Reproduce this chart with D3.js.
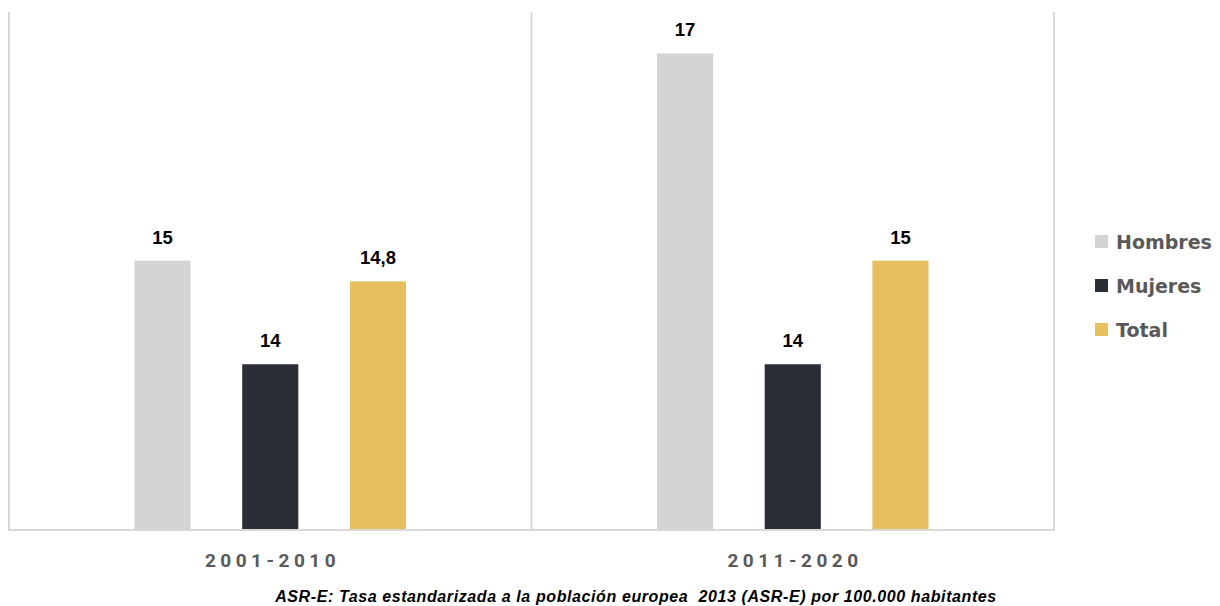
<!DOCTYPE html>
<html>
<head>
<meta charset="utf-8">
<script src="https://cdn.jsdelivr.net/npm/d3@7"></script>
<style>
  html, body { margin: 0; padding: 0; background: #ffffff; }
  svg { display: block; }
</style>
</head>
<body>
<svg id="chart" width="1220" height="606"></svg>
<script>
// Periods, series and the rate shown above each bar
const periods = ["2001-2010", "2011-2020"];
const seriesNames = ["Hombres", "Mujeres", "Total"];
const hombres = [15, 17];
const mujeres = [14, 14];
const total = [14.8, 15];
const valueLabels = [["15", "14", "14,8"], ["17", "14", "15"]];
const seriesColors = ["#d4d4d4", "#2a2e35", "#e6bf5f"];
const caption = "ASR-E: Tasa estandarizada a la población europea  2013 (ASR-E) por 100.000 habitantes";

const seriesValues = [hombres, mujeres, total];
const rows = periods.map((p, i) => ({
  period: p,
  bars: seriesNames.map((s, j) => ({ series: s, value: seriesValues[j][i], label: valueLabels[i][j] }))
}));

const svg = d3.select("#chart");
const plot = { left: 9, right: 1054, top: 12, bottom: 530 };

const x0 = d3.scaleBand().domain(periods).range([plot.left, plot.right]).padding(0);
const x1 = d3.scaleBand().domain(seriesNames).range([0, x0.bandwidth()])
  .paddingInner(0.479).paddingOuter(1.165);
const y = d3.scaleLinear().domain([12.4, 17.4]).range([plot.bottom, plot.top]);
const color = d3.scaleOrdinal().domain(seriesNames).range(seriesColors);

// Frame: outer verticals, category divider and baseline
const frame = svg.append("g").attr("stroke", "#d9d9d9").attr("stroke-width", 2);
[plot.left, x0(periods[1]), plot.right].forEach(xv => {
  frame.append("line").attr("x1", xv).attr("x2", xv).attr("y1", plot.top).attr("y2", plot.bottom);
});
frame.append("line").attr("x1", plot.left - 1).attr("x2", plot.right + 1)
  .attr("y1", plot.bottom).attr("y2", plot.bottom);

// Bars and value labels
const groups = svg.append("g").selectAll("g").data(rows).join("g")
  .attr("transform", d => `translate(${x0(d.period)},0)`);

groups.selectAll("rect").data(d => d.bars).join("rect")
  .attr("x", d => x1(d.series))
  .attr("width", x1.bandwidth())
  .attr("y", d => y(d.value))
  .attr("height", d => plot.bottom - 1 - y(d.value))
  .attr("fill", d => color(d.series));

groups.selectAll("text").data(d => d.bars).join("text")
  .attr("x", d => x1(d.series) + x1.bandwidth() / 2)
  .attr("y", d => y(d.value) - 17)
  .attr("text-anchor", "middle")
  .attr("font-family", "'Liberation Sans', Arial, sans-serif")
  .attr("font-weight", "bold")
  .attr("font-size", 18.5)
  .attr("fill", "#000000")
  .text(d => d.label);

// Category axis labels
const spacing = 4.5;
svg.append("g").selectAll("text").data(periods).join("text")
  .attr("x", d => x0(d) + x0.bandwidth() / 2 + spacing / 2)
  .attr("y", 567)
  .attr("text-anchor", "middle")
  .attr("font-family", "Roboto, 'Liberation Sans', sans-serif")
  .attr("font-weight", "bold")
  .attr("font-size", 19)
  .attr("letter-spacing", spacing)
  .attr("fill", "#595959")
  .text(d => d);

// Legend
const legend = svg.append("g").selectAll("g").data(seriesNames).join("g")
  .attr("transform", (d, i) => `translate(1095,${242 + i * 44})`);
legend.append("rect")
  .attr("x", 0).attr("y", -7).attr("width", 13).attr("height", 13)
  .attr("fill", d => color(d));
legend.append("text")
  .attr("x", 21).attr("y", 7)
  .attr("font-family", "'Century Gothic', 'DejaVu Sans', sans-serif")
  .attr("font-weight", "bold")
  .attr("font-size", 19)
  .attr("fill", "#595959")
  .text(d => d);

// Footnote
svg.append("text")
  .attr("x", 636).attr("y", 602)
  .attr("text-anchor", "middle")
  .attr("font-family", "'Liberation Sans', Arial, sans-serif")
  .attr("font-weight", "bold")
  .attr("font-style", "italic")
  .attr("font-size", 16)
  .attr("letter-spacing", 0.6)
  .attr("fill", "#000000")
  .style("white-space", "pre")
  .text(caption);
</script>
</body>
</html>
